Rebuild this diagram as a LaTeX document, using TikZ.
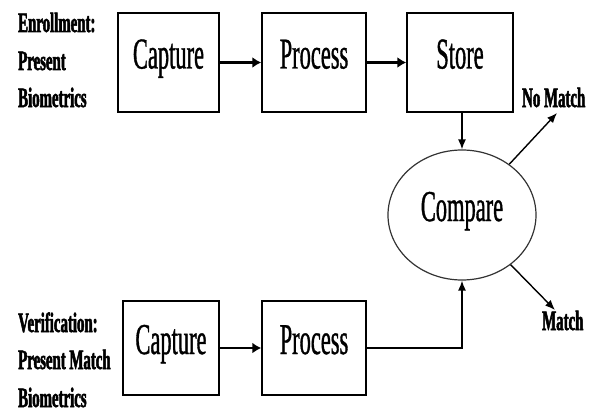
\documentclass[tikz,border=0pt]{standalone}
\usepackage{fontspec}
\setmainfont{Liberation Serif}
\newfontfamily\boxfont[FakeStretch=0.51,FakeBold=0.8]{Liberation Serif}
\newfontfamily\tagfont[FakeStretch=0.53,FakeBold=1.8]{Liberation Serif}
\usetikzlibrary{arrows.meta,shapes.geometric}
\begin{document}
\begin{tikzpicture}[x=1pt,y=-1pt,
  stage/.style={draw=black,line width=1.5pt,inner sep=0pt,
    minimum width=101pt,minimum height=99pt,
    text height=30pt,text depth=18pt,
    font=\boxfont\fontsize{44}{48}\selectfont},
  cmpnode/.style={ellipse,draw=black!80,line width=1.2pt,inner sep=0pt,
    minimum width=148pt,minimum height=130pt,
    text height=30pt,text depth=18pt,
    font=\boxfont\fontsize{44}{48}\selectfont},
  tag/.style={anchor=base west,inner sep=0pt,
    font=\tagfont\bfseries\fontsize{28}{38}\selectfont},
  flow/.style={line width=2.2pt,-{Latex[length=9pt,width=11pt]}},
  thinflow/.style={line width=1.4pt,-{Latex[length=10pt,width=8pt]}}]
\useasboundingbox (0,0) rectangle (592,412);

% enrollment row
\node[tag] (e1) at (18,32) {Enrollment:};
\node[tag] (e2) at (18,70) {Present};
\node[tag] (e3) at (18,107) {Biometrics};
\node[stage] (cap1) at (168.5,62.5) {Capture};
\node[stage,minimum width=104pt] (pro1) at (314,62.5) {Process};
\node[stage,minimum width=106pt] (sto) at (460,62.5) {Store};

% matcher
\node[cmpnode] (cmp) at (462,215) {Compare};

% verification row
\node[tag] (v1) at (18,332) {Verification:};
\node[tag] (v2) at (18,369) {Present Match};
\node[tag] (v3) at (18,407) {Biometrics};
\node[stage,minimum width=96pt,minimum height=94pt] (cap2) at (171,348) {Capture};
\node[stage,minimum width=104pt,minimum height=94pt] (pro2) at (314,348) {Process};

% outcomes
\node[tag] (nomatch) at (522,107) {No Match};
\node[tag] (match) at (542,330) {Match};
\coordinate (nmtip) at (557,113);
\coordinate (mtip) at (555,310);

% connectors
\draw[flow] (cap1) -- (pro1);
\draw[flow] (pro1) -- (sto);
\draw[thinflow] (sto.south -| cmp.north) -- (cmp.north);
\draw[flow] (cap2) -- (pro2);
\draw[thinflow] (pro2.east) -| (cmp.south);
\draw[thinflow] (cmp) -- (nmtip);
\draw[thinflow] (cmp) -- (mtip);
\end{tikzpicture}
\end{document}
